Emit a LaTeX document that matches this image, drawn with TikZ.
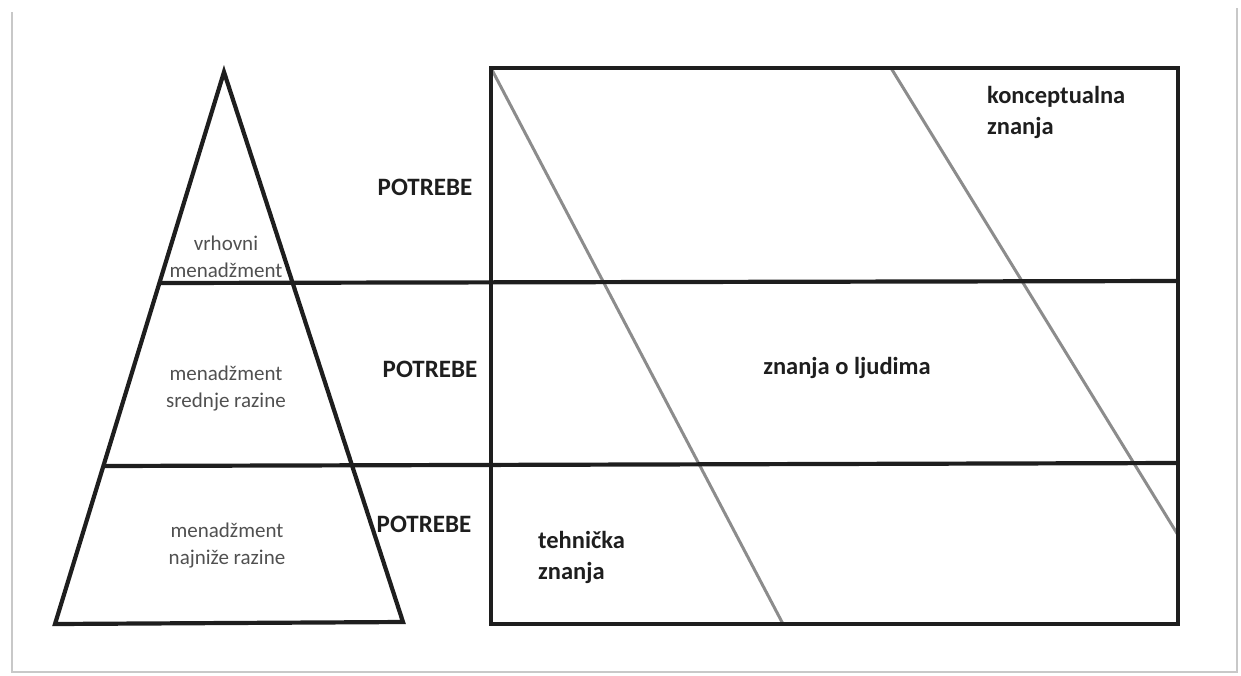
\documentclass[tikz,border=0pt]{standalone}
\usepackage{fontspec}
\setmainfont{Carlito}
\definecolor{frame}{HTML}{C8C8C8}
\definecolor{diag}{HTML}{8C8C8C}
\definecolor{lvl}{HTML}{505050}
\definecolor{ink}{HTML}{1E1E1E}
\begin{document}
\begin{tikzpicture}[x=1pt,y=-1pt,
  thick line/.style={line width=4.2pt,draw=ink,line join=miter},
  diagline/.style={line width=3pt,draw=diag},
  lvltext/.style={font=\fontsize{21}{27}\selectfont,text=lvl,align=center,inner sep=0pt},
  needtext/.style={font=\bfseries\fontsize{25}{30}\selectfont,text=ink,inner sep=0pt},
  skilltext/.style={font=\bfseries\fontsize{24.5}{31}\selectfont,text=ink,inner sep=0pt,align=left}]
\useasboundingbox (0,0) rectangle (1241,675);
% outer frame
\draw[frame,line width=1.5pt] (12,12) -- (12,672) -- (1237,672) -- (1237,8);
% coordinates
\coordinate (apex) at (224,72);
\coordinate (bl) at (55,624);
\coordinate (br) at (403,622);
\coordinate (l1) at (159.5,283);
\coordinate (l2) at (103.5,466);
\coordinate (boxtl) at (491,68);
\coordinate (boxbr) at (1178,624);
\coordinate (r1) at (1178,281);
\coordinate (r2) at (1178,463);
\coordinate (dA1) at (491,68);
\coordinate (dA2) at (783,624);
\coordinate (dB1) at (891,68);
\coordinate (dB2) at (1178,535);
% diagonal grey lines
\draw[diagline] (dA1) -- (dA2);
\draw[diagline] (dB1) -- (dB2);
% triangle
\draw[thick line] (apex) -- (bl) -- (br) -- cycle;
% box
\draw[thick line] (boxtl) rectangle (boxbr);
% level lines
\draw[thick line] (l1) -- (r1);
\draw[thick line] (l2) -- (r2);
% triangle texts
\node[lvltext] (t1) at (226,257) {vrhovni\\menadžment};
\node[lvltext] (t2) at (226,389) {menadžment\\srednje razine};
\node[lvltext] (t3) at (227,545) {menadžment\\najniže razine};
% needs
\node[needtext] (p1) at (425,187) {POTREBE};
\node[needtext] (p2) at (430,369) {POTREBE};
\node[needtext] (p3) at (424,524) {POTREBE};
% skills
\node[skilltext,anchor=west] (s1) at (987,112) {konceptualna\\znanja};
\node[skilltext] (s2) at (847,368) {znanja o ljudima};
\node[skilltext,anchor=west] (s3) at (538,557) {tehnička\\znanja};
\end{tikzpicture}
\end{document}
